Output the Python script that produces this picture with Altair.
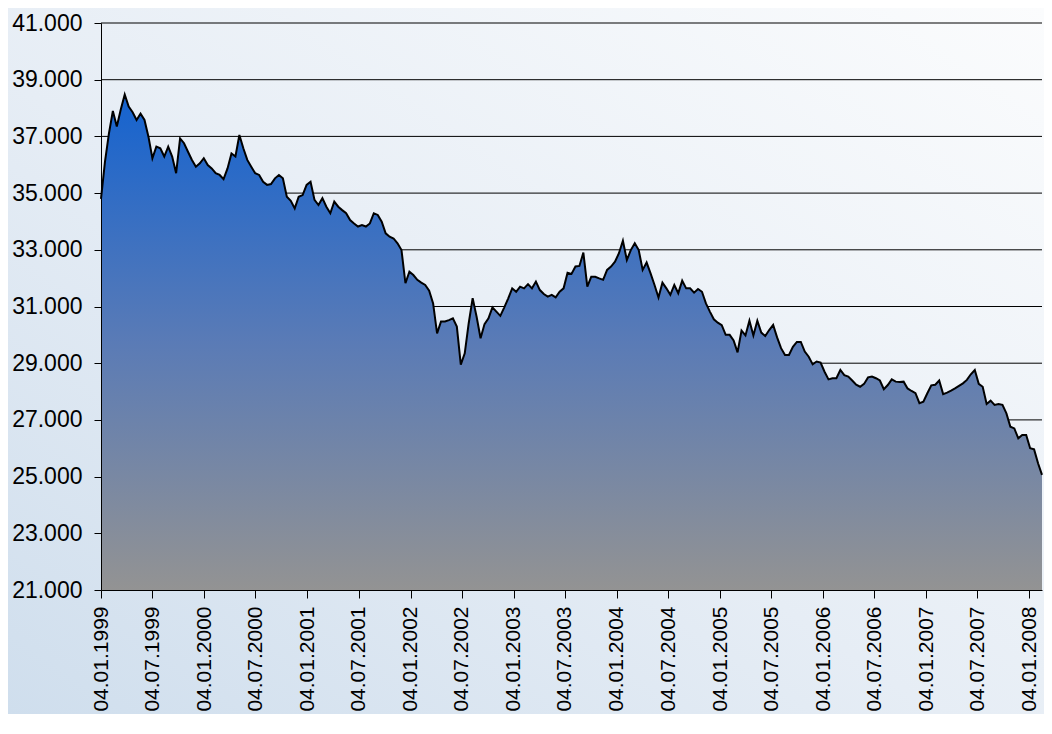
import altair as alt
import pandas as pd

values_1999_2001 = [
    34800, 36100, 37100, 37900, 37350, 37950, 38480, 38050, 37850, 37580,
    37800, 37580, 36990, 36230, 36640, 36580, 36290, 36640, 36290, 35700,
    36930, 36760, 36460, 36170, 35930, 36050, 36230, 35990, 35870, 35700,
    35640, 35490, 35870, 36400, 36290, 37050, 36580, 36170, 35930, 35700,
    35640, 35400, 35290, 35320, 35520, 35640, 35520, 34870, 34730, 34460,
    34870, 34930, 35290, 35400, 34760, 34580, 34820, 34520, 34290, 34700,
    34520, 34400, 34290, 34050, 33930, 33820, 33870, 33820, 33930, 34290,
    34230, 33990, 33580, 33460, 33400, 33230, 32990, 31820, 32230, 32110,
]
values_2002_2004 = [
    31940, 31840, 31760, 31560, 31110, 30050, 30470, 30470, 30520, 30580,
    30290, 28950, 29350, 30410, 31290, 30640, 29880, 30380, 30580, 30970,
    30820, 30670, 30970, 31290, 31640, 31520, 31700, 31640, 31790, 31640,
    31880, 31580, 31440, 31350, 31410, 31320, 31520, 31640, 32190, 32150,
    32410, 32430, 32900, 31700, 32050, 32050, 31990, 31940, 32290, 32410,
    32580, 32880, 33320, 32640, 32990, 33230, 32990, 32290, 32550, 32170,
    31760, 31320, 31840, 31640, 31410, 31760, 31470, 31910, 31640, 31640,
    31490, 31620, 31520, 31110, 30820,
]
values_2005_2008 = [
    30550, 30430, 30340, 30000, 30000, 29800, 29380, 30150, 29980, 30500,
    29980, 30500, 30080, 29960, 30170, 30350, 29910, 29530, 29290, 29290,
    29580, 29750, 29750, 29410, 29230, 28960, 29060, 29020, 28700, 28430,
    28470, 28470, 28760, 28580, 28530, 28390, 28240, 28170, 28270, 28500,
    28530, 28470, 28390, 28080, 28230, 28430, 28350, 28340, 28350, 28110,
    28020, 27940, 27590, 27640, 27940, 28220, 28240, 28390, 27910, 27960,
    28030, 28110, 28200, 28290, 28410, 28610, 28760, 28270, 28170, 27560,
    27680, 27530, 27560, 27530, 27230, 26760, 26700, 26350, 26470, 26470,
    26000, 25960, 25470, 25060,
]
values = values_1999_2001 + values_2002_2004 + values_2005_2008
dates = pd.date_range("1999-01-04", periods=len(values), freq="14D")

y_ticks = [21000, 23000, 25000, 27000, 29000, 31000, 33000, 35000, 37000, 39000, 41000]
x_tick_dates = [(y, m) for y in range(1999, 2009) for m in (1, 7)][:-1]

df = pd.DataFrame({"date": dates, "value": values})
grid_df = pd.DataFrame({"v": y_ticks[1:]})

FONT = "Liberation Sans"
W, H = 941, 567
PAD = {"left": 93, "top": 15, "right": 2, "bottom": 124}

yscale = alt.Scale(domain=[21000, 41000], nice=False, zero=False)
xscale = alt.Scale(domain=[alt.DateTime(year=1999, month=1, date=4),
                           alt.DateTime(year=int(dates[-1].year), month=int(dates[-1].month), date=int(dates[-1].day))])

x_axis = alt.Axis(
    values=[alt.DateTime(year=y, month=m, date=4) for y, m in x_tick_dates],
    format="%d.%m.%Y", labelAngle=270, labelFont=FONT, labelFontSize=21,
    labelColor="#000", tickColor="#000", tickSize=8, labelPadding=8,
    domainColor="#000", domainWidth=1, grid=False, title=None, zindex=1,
    labelOverlap=False, labelFlush=False,
)
y_axis = alt.Axis(
    values=y_ticks, labelExpr="replace(format(datum.value, ','), ',', '.')",
    labelFont=FONT, labelFontSize=23, labelColor="#000", tickColor="#000",
    tickSize=7, labelPadding=12, domainColor="#000", domainWidth=1,
    grid=False, title=None, zindex=1, labelOverlap=False, labelFlush=False,
)

bg = alt.Chart(pd.DataFrame({"k": [0]})).mark_rect(
    clip=False,
    fill=alt.Gradient(
        gradient="linear", x1=0, y1=1, x2=1, y2=0,
        stops=[alt.GradientStop(color="#cfdeed", offset=0),
               alt.GradientStop(color="#e6edf5", offset=0.45),
               alt.GradientStop(color="#fbfcfd", offset=1)],
    ),
).encode(
    x=alt.value(-PAD["left"]), x2=alt.value(W + PAD["right"]),
    y=alt.value(-PAD["top"]), y2=alt.value(H + PAD["bottom"]),
)

grid = alt.Chart(grid_df).mark_rule(color="#000", strokeWidth=1).encode(
    y=alt.Y("v:Q", scale=yscale, axis=y_axis)
)

area = alt.Chart(df).mark_area(
    fill=alt.Gradient(
        gradient="linear", x1=1, x2=1, y1=0, y2=1,
        stops=[alt.GradientStop(color="#1563cf", offset=0),
               alt.GradientStop(color="#5a7bb6", offset=0.5),
               alt.GradientStop(color="#939393", offset=1)],
    ),
    stroke=None,
).encode(
    x=alt.X("date:T", scale=xscale, axis=x_axis),
    y=alt.Y("value:Q", scale=yscale, axis=y_axis),
    y2=alt.datum(21000),
)

line = alt.Chart(df).mark_line(color="#000", strokeWidth=2).encode(
    x=alt.X("date:T", scale=xscale, axis=x_axis),
    y=alt.Y("value:Q", scale=yscale, axis=y_axis),
)

chart = alt.layer(bg, grid, area, line).properties(
    width=W, height=H, padding=PAD,
    autosize=alt.AutoSizeParams(type="none"),
).configure_view(stroke=None).configure(background="#e4ecf5")

chart.save("out.html", embed_options={"renderer": "svg", "actions": False})
